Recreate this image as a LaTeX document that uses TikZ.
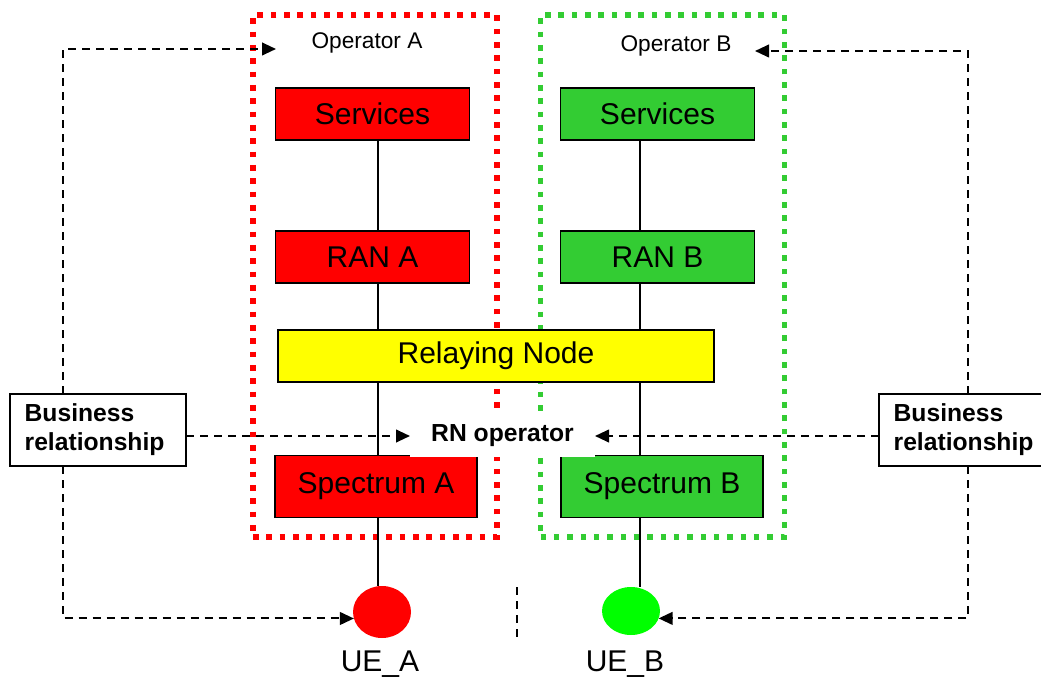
\documentclass[tikz,border=0pt]{standalone}
\usepackage{fontspec}
\setmainfont{Liberation Sans}
\usetikzlibrary{arrows.meta,shapes.geometric}
\definecolor{opred}{HTML}{FF0000}
\definecolor{opgreen}{HTML}{33CC33}
\definecolor{uegreen}{HTML}{00FF00}
\definecolor{rnyellow}{HTML}{FFFF00}

\begin{document}
\begin{tikzpicture}[x=0.75pt,y=-0.75pt,
  block/.style={draw=black, line width=1.4pt, inner sep=0pt, outer sep=0pt,
    minimum width=145.5pt, minimum height=39pt,
    font=\fontsize{22.5}{27}\selectfont},
  specbox/.style={block, minimum width=151.5pt, minimum height=46.5pt},
  opframe/.style={line width=4.2pt, dash pattern=on 4.2pt off 5.8pt,
    inner sep=0pt, outer sep=0pt, minimum width=183pt, minimum height=391.5pt},
  optitle/.style={font=\fontsize{17}{20}\selectfont, inner sep=0pt},
  bizbox/.style={draw=black, line width=1.2pt, outer sep=0pt,
    minimum width=132pt, minimum height=54pt, inner xsep=11pt, inner ysep=0pt,
    align=left, text width=110pt,
    font=\bfseries\fontsize{18.5}{21.75}\selectfont},
  ue/.style={ellipse, inner sep=0pt, outer sep=0pt, minimum width=43.5pt},
  uelabel/.style={font=\fontsize{22.5}{27}\selectfont, inner sep=0pt},
  wire/.style={line width=1.1pt},
  link/.style={line width=1.5pt, dash pattern=on 6pt off 4.5pt},
  tip/.style={-{Triangle[length=10.5pt,width=9.5pt]}}]

\clip (0,0) rectangle (1041,677);
\fill[white] (0,0) rectangle (1041,677);

% operator domains
\node[opframe, draw=opred] (domA) at (375,276) {};
\node[opframe, draw=opgreen] (domB) at (662.5,276) {};
\node[optitle] (opA) at (367,43) {Operator A};
\node[optitle] (opB) at (676,46) {Operator B};

% network stacks
\node[block, fill=opred] (svcA) at (372.5,114) {Services};
\node[block, fill=opgreen] (svcB) at (657.5,114) {Services};
\node[block, fill=opred] (ranA) at (372.5,257) {RAN A};
\node[block, fill=opgreen] (ranB) at (657.5,257) {RAN B};
\node[block, fill=rnyellow, minimum width=327pt] (rn) at (496,356) {Relaying Node};
\node[specbox, fill=opred] (specA) at (376,486.5) {Spectrum A};
\node[specbox, fill=opgreen] (specB) at (662,486.5) {Spectrum B};

% user equipment
\node[ue, fill=opred, minimum height=39pt] (ueA) at (382,612) {};
\node[ue, fill=uegreen, minimum height=36pt] (ueB) at (631,611) {};
\node[uelabel, anchor=base] (ueAl) at (380,671) {UE\_A};
\node[uelabel, anchor=base] (ueBl) at (625,671) {UE\_B};

% relay operator label
\node[fill=white, inner sep=0pt, outer sep=0pt, minimum width=138.75pt,
  minimum height=31.5pt, font=\bfseries\fontsize{18.5}{22}\selectfont]
  (rnop) at (502.5,436) {RN operator};

% business relationship boxes
\node[bizbox] (bizL) at (98,430) {Business\\relationship};
\node[bizbox] (bizR) at (967,430) {Business\\relationship};

% vertical links of each stack
\coordinate (ca) at (378,0);
\coordinate (cb) at (640,0);
\draw[wire] (svcA.south -| ca) -- (ranA.north -| ca);
\draw[wire] (ranA.south -| ca) -- (rn.north -| ca);
\draw[wire] (rn.south -| ca) -- (specA.north -| ca);
\draw[wire] (specA.south -| ca) -- (ueA.north -| ca);
\draw[wire] (svcB.south -| cb) -- (ranB.north -| cb);
\draw[wire] (ranB.south -| cb) -- (rn.north -| cb);
\draw[wire] (rn.south -| cb) -- (specB.north -| cb);
\draw[wire] (specB.south -| cb) -- (ueB.north -| cb);

% business relationship links
\coordinate (lx) at (63,0);
\coordinate (rx) at (968,0);
\coordinate (opAtip) at (276,49);
\coordinate (opBtip) at (755,51);
\draw[link, tip] (bizL.north -| lx) |- (opAtip);
\draw[link, tip] (bizL.south -| lx) |- (ueA.193);
\draw[link, tip] (bizL.east |- rnop.west) -- (rnop.west);
\draw[link, tip] (bizR.north -| rx) |- (opBtip);
\draw[link, tip] (bizR.south -| rx) |- (ueB.-15);
\draw[link, tip] (bizR.west |- rnop.east) -- (rnop.east);

% separator between the two terminals
\coordinate (sepT) at (517,587);
\coordinate (sepB) at (517,638);
\draw[link, line width=1.3pt] (sepT) -- (sepB);
\end{tikzpicture}
\end{document}
